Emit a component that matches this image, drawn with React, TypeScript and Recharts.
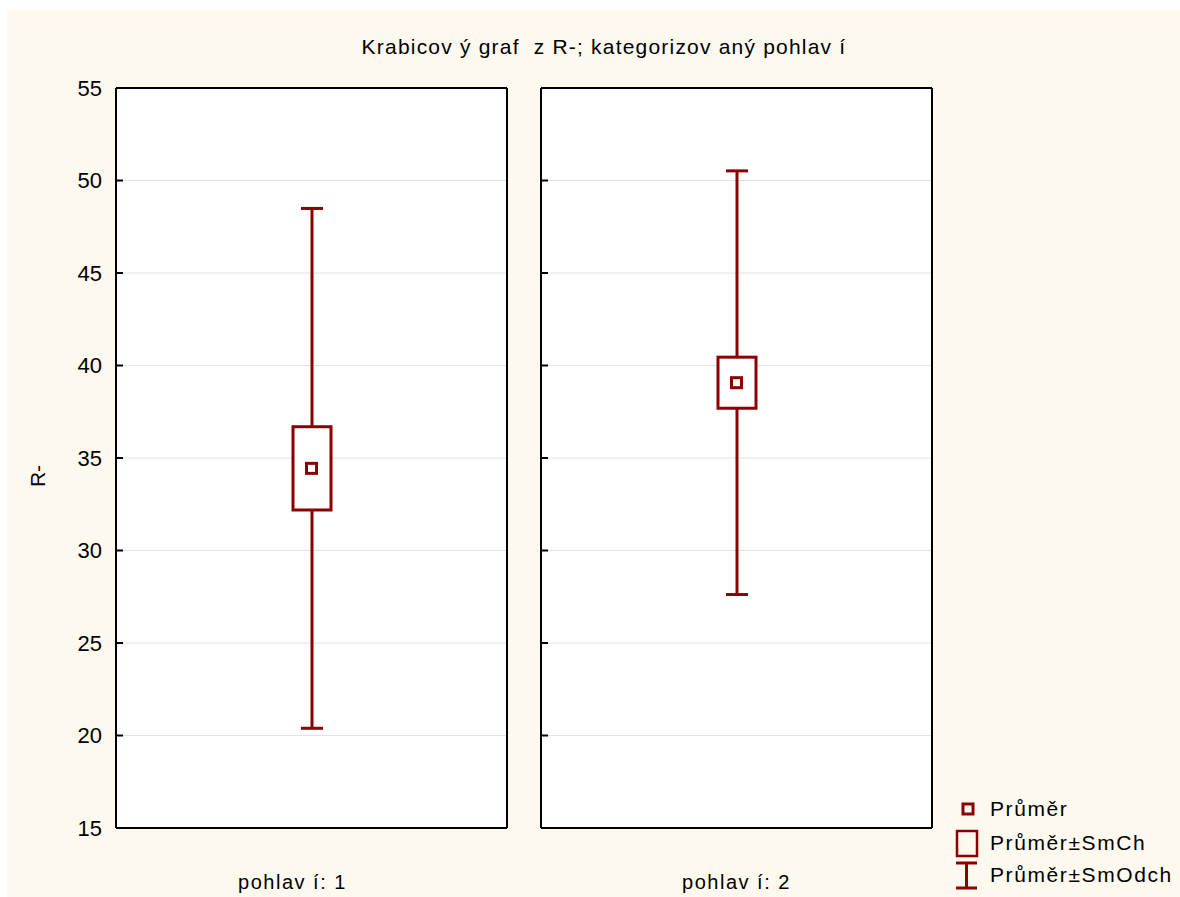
import React from 'react';
import { ComposedChart, Bar, Scatter, XAxis, YAxis, CartesianGrid, Legend } from 'recharts';

// ---- data ----
const categories = ['pohlav í: 1', 'pohlav í: 2'];
const means = [34.44, 39.07];
const stdDevs = [14.05, 11.45];
const stdErrs = [2.25, 1.38];
const yTicks = [15, 20, 25, 30, 35, 40, 45, 50, 55];
const legendLabels = ['Průměr', 'Průměr±SmCh', 'Průměr±SmOdch'];
const title = 'Krabicov ý graf  z R-; kategorizov aný pohlav í';
const yLabel = 'R-';

const RED = '#8B0000';
const FONT = '"Liberation Sans", Arial, Helvetica, sans-serif';
const BG = '#FDF9EE';

const rows = categories.map((c, i) => ({
  cat: c,
  mean: means[i],
  lower: [means[i] - stdDevs[i], means[i] - stdErrs[i]],
  box: [means[i] - stdErrs[i], means[i] + stdErrs[i]],
  upper: [means[i] + stdErrs[i], means[i] + stdDevs[i]],
}));

const makeWhisker = (end: 'top' | 'bottom') => (props: any) => {
  const { x, y, width, height } = props;
  if (x == null || y == null) return <g />;
  const cx = x + width / 2;
  const top = Math.min(y, y + height);
  const bot = Math.max(y, y + height);
  const capY = end === 'top' ? top : bot;
  return (
    <g>
      <line x1={cx} x2={cx} y1={top} y2={bot} stroke={RED} strokeWidth={3} />
      <line x1={cx - 11} x2={cx + 11} y1={capY} y2={capY} stroke={RED} strokeWidth={3} />
    </g>
  );
};
const UpperWhisker = makeWhisker('top');
const LowerWhisker = makeWhisker('bottom');

const BoxShape = (props: any) => {
  const { x, y, width, height } = props;
  if (x == null || y == null) return <g />;
  const top = Math.min(y, y + height);
  return <rect x={x} y={top} width={width} height={Math.abs(height)} fill="#fff" stroke={RED} strokeWidth={3} />;
};

const MeanShape = (props: any) => {
  const { cx, cy } = props;
  if (cx == null || cy == null) return <g />;
  return <rect x={cx - 5} y={cy - 5} width={10} height={10} fill="#fff" stroke={RED} strokeWidth={3} />;
};

const LegendContent = () => (
  <svg width={240} height={96} style={{ overflow: 'visible', display: 'block' }}>
    <rect x={13} y={7} width={10} height={10} fill="#fff" stroke={RED} strokeWidth={3} />
    <rect x={7} y={34} width={20} height={25} fill="none" stroke={RED} strokeWidth={2.5} />
    <line x1={6} x2={27} y1={66} y2={66} stroke={RED} strokeWidth={3} />
    <line x1={16.5} x2={16.5} y1={66} y2={91} stroke={RED} strokeWidth={3} />
    <line x1={6} x2={27} y1={91} y2={91} stroke={RED} strokeWidth={3} />
    {legendLabels.map((t, i) => (
      <text key={t} x={40} y={[19, 53, 85][i]} fontSize={21} fontFamily={FONT} fill="#000" letterSpacing={1.6}>
        {t}
      </text>
    ))}
  </svg>
);

type PanelProps = {
  idx: number;
  left: number;
  width: number;
  marginLeft: number;
  leftAxisWidth: number;
  marginRight: number;
  labelDx: number;
  showYLabels: boolean;
  withLegend?: boolean;
};

function Panel({ idx, left, width, marginLeft, leftAxisWidth, marginRight, labelDx, showYLabels, withLegend }: PanelProps) {
  const data = [rows[idx]];
  return (
    <div style={{ position: 'absolute', left, top: 0 }}>
      <ComposedChart
        width={width}
        height={887}
        data={data}
        margin={{ top: 68, right: marginRight, bottom: 9, left: marginLeft }}
        barGap={-38}
      >
        <CartesianGrid vertical={false} stroke="#e2e2e2" strokeWidth={1} fill="#fff" />
        <XAxis
          dataKey="cat"
          type="category"
          height={60}
          axisLine={{ stroke: '#000', strokeWidth: 2 }}
          tickLine={false}
          tickMargin={41}
          interval={0}
          tick={{ fontSize: 20, fill: '#000', fontFamily: FONT, dx: labelDx, letterSpacing: 1.5 } as any}
        />
        <XAxis
          xAxisId="top"
          dataKey="cat"
          type="category"
          orientation="top"
          height={10}
          axisLine={{ stroke: '#000', strokeWidth: 2 }}
          tickLine={false}
          tick={false}
        />
        <YAxis
          type="number"
          domain={[15, 55]}
          ticks={yTicks}
          interval={0}
          width={leftAxisWidth}
          axisLine={{ stroke: '#000', strokeWidth: 2 }}
          tickLine={{ stroke: '#000', strokeWidth: 2 }}
          tickSize={-7}
          tickMargin={21}
          tickFormatter={(v: number) => (showYLabels ? String(v) : '')}
          tick={{ fontSize: 22, fill: '#000', fontFamily: FONT }}
          label={
            showYLabels
              ? {
                  value: yLabel,
                  content: () => (
                    <text
                      x={30}
                      y={466}
                      transform="rotate(-90 30 466)"
                      textAnchor="middle"
                      dominantBaseline="central"
                      fontSize={21}
                      fontFamily={FONT}
                      fill="#000"
                    >
                      {yLabel}
                    </text>
                  ),
                }
              : undefined
          }
        />
        <YAxis
          yAxisId="r"
          orientation="right"
          type="number"
          domain={[15, 55]}
          ticks={yTicks}
          interval={0}
          width={10}
          axisLine={{ stroke: '#000', strokeWidth: 2 }}
          tickLine={{ stroke: '#000', strokeWidth: 2 }}
          tickSize={-7}
          tickFormatter={() => ''}
        />
        <Bar dataKey="lower" barSize={38} shape={LowerWhisker} isAnimationActive={false} />
        <Bar dataKey="upper" barSize={38} shape={UpperWhisker} isAnimationActive={false} />
        <Bar dataKey="box" barSize={38} shape={BoxShape} isAnimationActive={false} />
        <Scatter dataKey="mean" shape={MeanShape} isAnimationActive={false} />
        {withLegend ? (
          <Legend
            layout="vertical"
            align="center"
            verticalAlign="middle"
            wrapperStyle={{ left: 423, top: 787, width: 240, height: 96 }}
            content={LegendContent}
          />
        ) : null}
      </ComposedChart>
    </div>
  );
}

export default function App() {
  return (
    <div
      style={{
        position: 'absolute',
        left: 7,
        top: 10,
        width: 1173,
        height: 887,
        background: BG,
        fontFamily: FONT,
        overflow: 'hidden',
      }}
    >
      <svg width={1173} height={60} style={{ position: 'absolute', left: 0, top: 0 }}>
        <text
          x={597}
          y={44}
          textAnchor="middle"
          fontSize={21}
          fontFamily={FONT}
          fill="#000"
          letterSpacing={1.2}
          style={{ whiteSpace: 'pre' }}
        >
          {title}
        </text>
      </svg>
      <Panel idx={0} left={0} width={520} marginLeft={49} leftAxisWidth={60} marginRight={10} labelDx={-19} showYLabels />
      <Panel idx={1} left={520} width={653} marginLeft={4} leftAxisWidth={10} marginRight={238} labelDx={0} showYLabels={false} withLegend />
    </div>
  );
}
